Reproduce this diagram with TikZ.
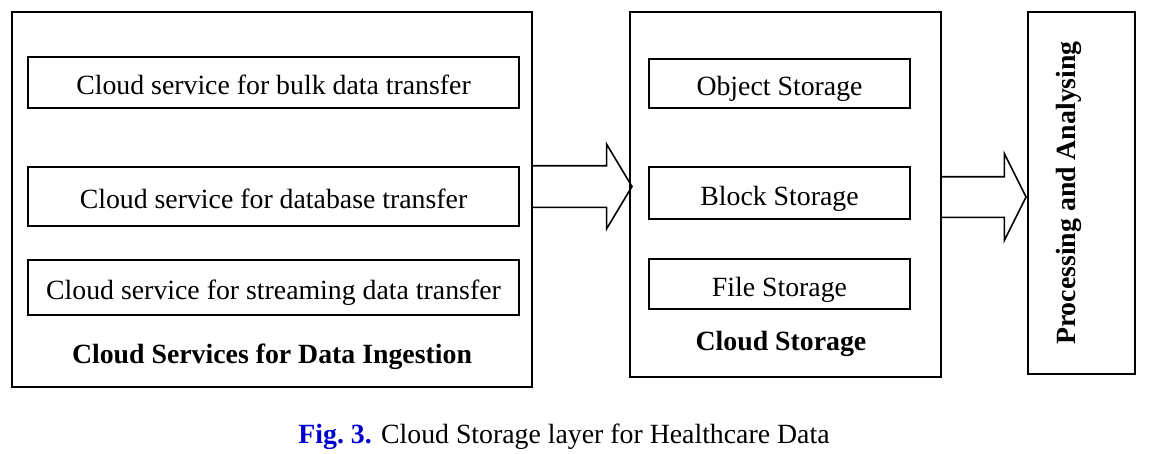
\documentclass[tikz,border=0pt]{standalone}
\usepackage{fontspec}
\setmainfont{Liberation Serif}
\usepackage{tikz}
\usetikzlibrary{shapes.arrows,calc}
\definecolor{figblue}{RGB}{0,0,204}
\newcommand{\figsize}{\fontsize{27.8}{33}\selectfont}
\tikzset{
	layer/.style={draw,line width=1.6pt,inner sep=0pt,outer sep=0pt},
	service/.style={layer,text height=24pt,text depth=0pt},
	title/.style={font=\figsize\bfseries,inner sep=0pt,anchor=base},
	flow/.style={single arrow,draw,line width=1.6pt,inner xsep=0pt,outer sep=0pt,
		single arrow head indent=0pt,anchor=west}
}

\begin{document}
\begin{tikzpicture}[x=1pt,y=-1pt,every node/.style={font=\figsize}]
	\useasboundingbox (0,0) rectangle (1156,453);
	% ingestion layer
	\node [layer,minimum width=520,minimum height=375] (ingest) at (272,199.5) {};
	\node [service,minimum width=491,minimum height=51] (bulk) at (273.5,82.5) {Cloud service for bulk data transfer};
	\node [service,minimum width=491,minimum height=59] (dbase) at (273.5,196.5) {Cloud service for database transfer};
	\node [service,minimum width=491,minimum height=55] (stream) at (273.5,287.5) {Cloud service for streaming data transfer};
	\node [title] (ingestlbl) at (272,363) {Cloud Services for Data Ingestion};
	% storage layer
	\node [layer,minimum width=311,minimum height=365] (store) at (785.5,194.5) {};
	\node [service,minimum width=261,minimum height=49] (objst) at (779.5,83.5) {Object Storage};
	\node [service,minimum width=261,minimum height=52] (blkst) at (779.5,193) {Block Storage};
	\node [service,minimum width=261,minimum height=50] (filest) at (779.5,284) {File Storage};
	\node [title] (storelbl) at (781,350) {Cloud Storage};
	% processing
	\node [layer,rotate=90,minimum width=362,minimum height=107,text height=19pt,text depth=31pt,font=\figsize\bfseries] (proc) at (1081.5,193) {Processing and Analysing};
	% flows
	\node [flow,inner ysep=20pt,single arrow head extend=21.5pt,single arrow tip angle=118,minimum height=100] (arrA) at (ingest.east |- 0,186.5) {};
	\node [flow,inner ysep=19.5pt,single arrow head extend=23pt,single arrow tip angle=127,minimum height=85] (arrB) at (store.east |- 0,197) {};
	% caption
	\node [anchor=base,inner sep=0pt] (caption) at (564,443) {\textcolor{figblue}{\bfseries Fig.\ 3.} Cloud Storage layer for Healthcare Data};
\end{tikzpicture}
\end{document}
